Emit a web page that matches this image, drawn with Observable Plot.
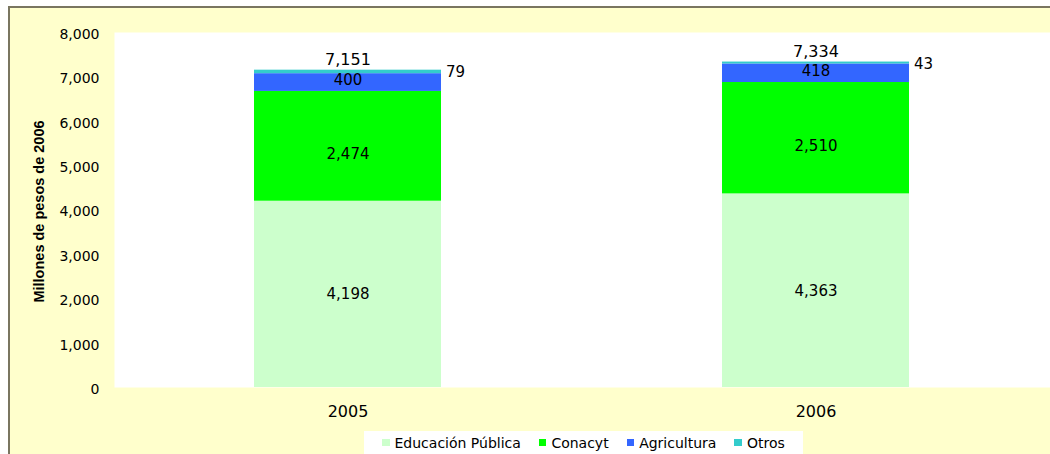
<!DOCTYPE html>
<html>
<head>
<meta charset="utf-8">
<script src="https://cdn.jsdelivr.net/npm/d3@7"></script>
<script src="https://cdn.jsdelivr.net/npm/@observablehq/plot@0.6"></script>
<style>
html, body { margin: 0; padding: 0; overflow: hidden; background: #fff; }
#wrap { position: relative; width: 1050px; height: 454px; overflow: hidden; background: #fff; }
#frame { position: absolute; left: 8px; top: 6px; width: 1100px; height: 500px; background: #FFFFCC;
  border-top: 2px solid #7a7660; border-left: 2px solid #7a7660; box-sizing: border-box; }
#chart { position: absolute; left: 0; top: 0; }
#legend { position: absolute; left: 364px; top: 431px; width: 439px; height: 26px; background: #fff;
  display: flex; align-items: center; padding-left: 18px; padding-bottom: 3px; box-sizing: border-box;
  font-family: "DejaVu Sans", sans-serif; font-size: 14px; color: #000; }
.item { display: flex; align-items: center; margin-right: 18px; white-space: nowrap; }
.sw { width: 7.5px; height: 7px; margin-right: 5px; }
</style>
</head>
<body>
<div id="wrap"><div id="frame"></div><div id="chart"></div><div id="legend"></div></div>
<script>
// ---- data ----
const years = ["2005", "2006"];
const series = ["Educación Pública", "Conacyt", "Agricultura", "Otros"];
const educacion = [4198, 4363];
const conacyt = [2474, 2510];
const agricultura = [400, 418];
const otros = [79, 43];
const colors = ["#CCFFCC", "#00FF00", "#3366FF", "#33CCCC"];
const yTicks = [0, 1000, 2000, 3000, 4000, 5000, 6000, 7000, 8000];
const yLabel = "Millones de pesos de 2006";

const valuesBySeries = [educacion, conacyt, agricultura, otros];
const data = years.flatMap((year, i) =>
  series.map((s, j) => ({year, serie: s, value: valuesBySeries[j][i]}))
);
const totals = years.map((year, i) => ({
  year,
  total: valuesBySeries.reduce((acc, arr) => acc + arr[i], 0)
}));
const fmt = d3.format(",");
const font = "DejaVu Sans";

const labelFor = (name) => (d) => d.serie === name ? fmt(d.value) : null;

const chart = Plot.plot({
  width: 1050,
  height: 431,
  marginLeft: 114,
  marginRight: 0,
  marginTop: 32,
  marginBottom: 44,
  style: {background: "transparent", fontFamily: font, color: "#000"},
  x: {type: "band", domain: years, paddingInner: 0.6, paddingOuter: 0.3},
  y: {domain: [0, 8000]},
  color: {domain: series, range: colors},
  marks: [
    Plot.frame({fill: "white", stroke: null}),
    Plot.barY(data, {x: "year", y: "value", fill: "serie", order: series}),
    Plot.text(data, Plot.stackY({x: "year", y: "value", z: "serie", order: series,
      text: labelFor("Educación Pública"), fontSize: 15, fill: "#000"})),
    Plot.text(data, Plot.stackY({x: "year", y: "value", z: "serie", order: series,
      text: labelFor("Conacyt"), fontSize: 15, dy: 8, fill: "#000"})),
    Plot.text(data, Plot.stackY({x: "year", y: "value", z: "serie", order: series,
      text: labelFor("Agricultura"), fontSize: 15, dy: -2, fill: "#000"})),
    Plot.text(data, Plot.stackY2({x: "year", y: "value", z: "serie", order: series,
      text: labelFor("Otros"), fontSize: 15, dx: 98, dy: 2.5, textAnchor: "start", fill: "#000"})),
    Plot.text(totals, {x: "year", y: "total", text: (d) => fmt(d.total), fontSize: 16, dy: -10.5, fill: "#000"}),
    Plot.axisY({ticks: yTicks, tickSize: 0, tickPadding: 15, tickFormat: fmt, fontSize: 14, dy: 2, label: null}),
    Plot.axisX({tickSize: 0, tickPadding: 18, fontSize: 16, label: null}),
    Plot.text([yLabel], {frameAnchor: "left", text: (d) => d, rotate: -90, dx: -75, dy: 1.5,
      textAnchor: "middle", lineAnchor: "middle",
      fontFamily: "Liberation Sans", fontWeight: "bold", fontSize: 14.5, fill: "#000"})
  ]
});
document.getElementById("chart").appendChild(chart);

// ---- legend ----
const legend = d3.select("#legend");
series.forEach((s, i) => {
  const item = legend.append("div").attr("class", "item");
  item.append("div").attr("class", "sw").style("background", colors[i]);
  item.append("span").text(s);
});
</script>
</body>
</html>
